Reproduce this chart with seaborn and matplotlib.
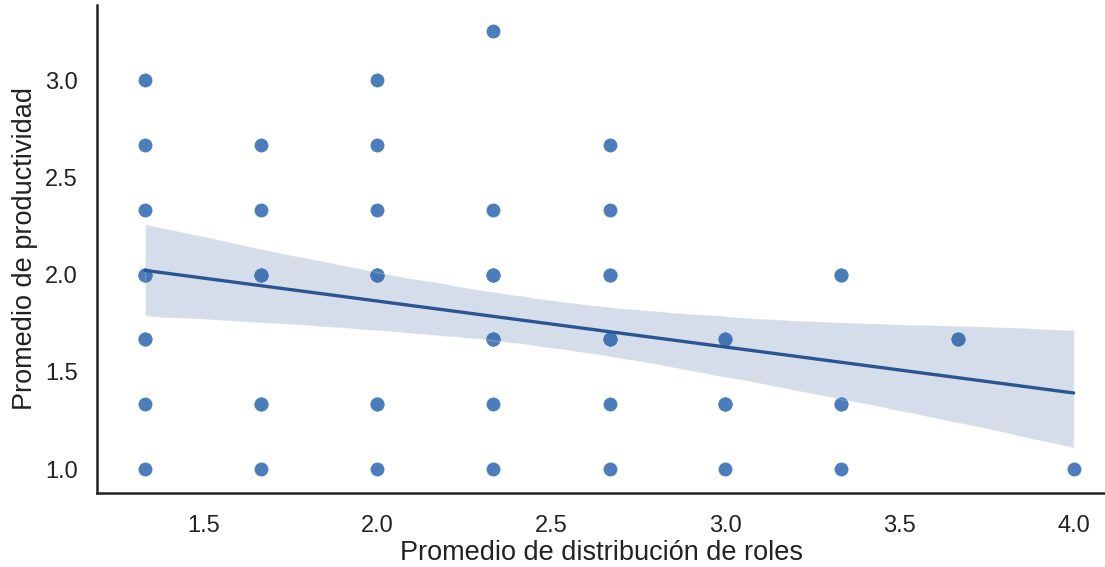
import pandas as pd
import matplotlib.pyplot as plt
import seaborn as sns

# Promedio de distribucion de roles (x) y productividad (y), repetidos incluidos
roles = [1.333] * 10 + [1.667] * 8 + [2.0] * 9 + [2.333] * 10 + [2.667] * 9 \
    + [3.0] * 6 + [3.333] * 5 + [3.667] * 2 + [4.0]
productividad = [
    3.0, 2.667, 2.333, 2.0, 2.0, 2.0, 1.667, 1.667, 1.333, 1.0,
    2.667, 2.333, 2.0, 2.0, 2.0, 1.333, 1.333, 1.0,
    3.0, 2.667, 2.333, 2.0, 2.0, 2.0, 1.333, 1.333, 1.0,
    3.25, 2.333, 2.0, 2.0, 2.0, 1.667, 1.667, 1.667, 1.333, 1.0,
    2.667, 2.333, 2.0, 2.0, 1.667, 1.667, 1.667, 1.333, 1.0,
    1.667, 1.667, 1.333, 1.333, 1.333, 1.0,
    2.0, 2.0, 1.333, 1.333, 1.0,
    1.667, 1.667,
    1.0,
]
x_ticks = [1.5, 2.0, 2.5, 3.0, 3.5, 4.0]
y_ticks = [1.0, 1.5, 2.0, 2.5, 3.0]

df = pd.DataFrame({"roles": roles, "productividad": productividad})

sns.set_style("white")
plt.rcParams["font.family"] = ["Liberation Sans", "DejaVu Sans"]

fig = plt.figure(figsize=(11.05, 5.67), dpi=100)
ax = fig.add_axes([0.0878, 0.1305, 0.9122, 0.8607])

sns.regplot(
    data=df, x="roles", y="productividad", ax=ax, seed=7,
    scatter_kws={"s": 100, "color": "#4a7dba", "alpha": 1, "linewidths": 0},
    line_kws={"color": "#2a5592", "lw": 2.4},
)
# banda de confianza un poco mas marcada
for coll in ax.collections[1:]:
    coll.set_alpha(0.2)

ax.set_xlim(1.195, 4.09)
ax.set_ylim(0.877, 3.386)
ax.set_xticks(x_ticks)
ax.set_yticks(y_ticks)
ax.tick_params(axis="x", length=0, pad=16, labelsize=17, labelcolor="#222222")
ax.tick_params(axis="y", length=0, pad=14, labelsize=17, labelcolor="#222222")
ax.set_xlabel("Promedio de distribución de roles", fontsize=19.5, labelpad=2, color="#222222")
ax.set_ylabel("Promedio de productividad", fontsize=19.5, labelpad=5, color="#222222")

sns.despine(ax=ax)
for side in ["left", "bottom"]:
    ax.spines[side].set_color("#222222")
    ax.spines[side].set_linewidth(1.8)

plt.savefig("out.png", dpi=100)
